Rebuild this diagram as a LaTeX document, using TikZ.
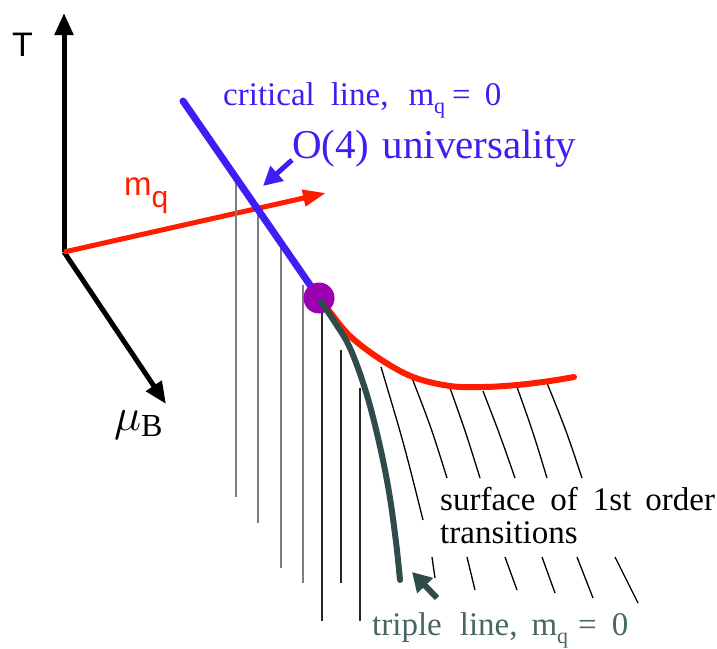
\documentclass[tikz,border=0pt]{standalone}
\usepackage{fix-cm}
\usepackage{fontspec}
\setmainfont{Liberation Serif}
\newfontfamily\hsans{Liberation Sans}
\usetikzlibrary{arrows.meta}
\definecolor{cblue}{RGB}{62,30,245}
\definecolor{cred}{RGB}{255,28,0}
\definecolor{cpurple}{RGB}{155,0,178}
\definecolor{cslate}{RGB}{46,76,73}
\definecolor{cslatetxt}{RGB}{72,102,99}
\definecolor{cgray}{RGB}{125,125,125}
\newcommand\myfs[1]{\fontsize{#1}{#1}\selectfont}
\tikzset{
  axisline/.style={line width=5pt, -{Triangle[length=22pt,width=18pt]}},
  vgray/.style={cgray, line width=2pt},
  vblack/.style={black!85, line width=1.5pt},
  hatch/.style={black, line width=1.3pt},
  lbl/.style={anchor=base west, inner sep=0pt}
}
\begin{document}
\begin{tikzpicture}[x=1pt,y=-1pt]
\useasboundingbox (0,0) rectangle (717,648);
% coordinates
\coordinate (O) at (64,252);
\coordinate (Ttip) at (64,13);
\coordinate (Mtip) at (166,404);
\coordinate (Qtip) at (326,193);
\coordinate (CLtop) at (183,101);
\coordinate (CP) at (319,298);
% axes
\draw[axisline, black] (O) -- (Ttip);
\draw[axisline, black] (O) -- (Mtip);
\draw[cred, line width=5pt, -{Triangle[length=23pt,width=16pt]}] (O) -- (Qtip);
% vertical lines
\draw[vgray] (236,181) -- (236,497);
\draw[vgray] (258,213) -- (258,523);
\draw[vgray] (281,248) -- (281,568);
\draw[vgray] (303,285) -- (303,583);
\draw[vblack] (322,305) -- (322,621);
\draw[vblack] (341,350) -- (341,583);
\draw[vblack] (360,388) -- (360,621);
% slanted hatch lines
\draw[hatch] (381,367) .. controls (404,444) .. (423,520);
\draw[hatch] (432,557) -- (435,578);
\draw[hatch] (412,378) .. controls (431,427) .. (447,478);
\draw[hatch] (467,557) -- (475,590);
\draw[hatch] (450,388) .. controls (466,433) .. (480,478);
\draw[hatch] (505,557) -- (517,590);
\draw[hatch] (483,391) .. controls (500,435) .. (515,478);
\draw[hatch] (542,557) -- (555,593);
\draw[hatch] (517,387) .. controls (533,432) .. (547,478);
\draw[hatch] (577,557) -- (593,598);
\draw[hatch] (547,383) .. controls (566,430) .. (582,478);
\draw[hatch] (615,557) -- (638,603);
% red first-order line
\draw[cred, line width=6pt, line cap=round] plot[smooth, tension=0.6] coordinates
  {(322,301) (330,312) (350,336) (380,359) (413,377) (450,386) (483,387) (517,385) (550,381) (574,377)};
% blue critical line
\draw[cblue, line width=7pt, line cap=round] (CLtop) -- (CP);
% critical point
\fill[cpurple] (CP) circle (15.5pt);
% triple line
\draw[cslate, line width=6pt, line cap=round] plot[smooth, tension=0.6] coordinates
  {(321,302) (334,321) (350,348) (366,392) (379,442) (389,492) (396,542) (400,580)};
% pointer arrows
\coordinate (Oarr1) at (292,160);
\coordinate (Oarr2) at (263,186);
\draw[cblue, line width=5pt, -{Triangle[length=19pt,width=19pt]}] (Oarr1) -- (Oarr2);
\coordinate (Tarr1) at (437,598);
\coordinate (Tarr2) at (412,572);
\draw[cslate, line width=6pt, -{Triangle[length=19pt,width=21pt]}] (Tarr1) -- (Tarr2);
% labels
\node[inner sep=0pt, font=\hsans\myfs{34}] (Tlab) at (22.5,44.5) {T};
\node[lbl, text=cred, font=\hsans\myfs{33}] (mqlab) at (124,195) {m\raisebox{-12pt}{\myfs{30}q}};
\node[lbl, font=\myfs{34}] (mulab) at (114,430) {\scalebox{1.35}{$\mu_{\mathrm{B}}$}};
\node[lbl, text=cblue] (critlab) at (223,105)
  {\myfs{33}critical\hspace{16pt}line,\hspace{20pt}m\raisebox{-8pt}{\myfs{22}q}\hspace{7pt}=\hspace{14pt}0};
\node[lbl, text=cblue] (o4lab) at (292,158) {\myfs{41}O(4)\hspace{13pt}universality};
\node[lbl] (surf1) at (440,510)
  {\myfs{33}surface\hspace{15pt}of\hspace{15pt}1st\hspace{14pt}order};
\node[lbl] (surf2) at (440,543) {\myfs{33}transitions};
\node[lbl, text=cslatetxt] (triplab) at (372,635)
  {\myfs{33}triple\hspace{18pt}line,\hspace{14pt}m\raisebox{-8pt}{\myfs{22}q}\hspace{10pt}=\hspace{15pt}0};
\end{tikzpicture}
\end{document}
